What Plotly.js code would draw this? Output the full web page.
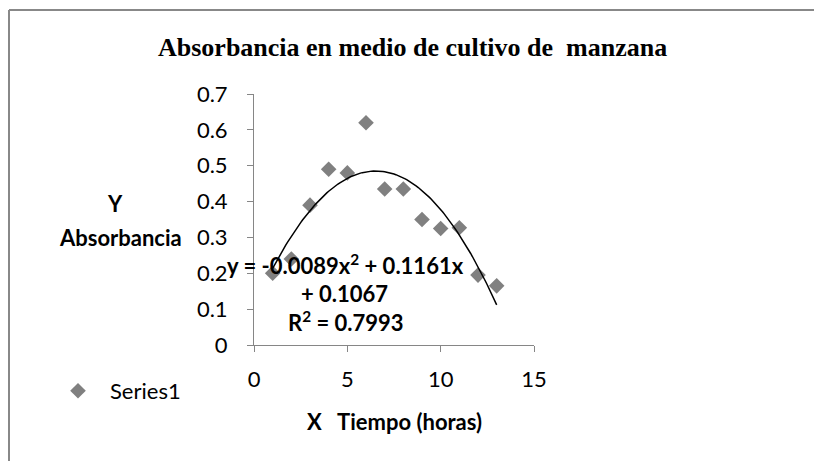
<!DOCTYPE html>
<html>
<head>
<meta charset="utf-8">
<script src="https://cdn.plot.ly/plotly-3.0.1.min.js"></script>
<style>
html,body{margin:0;padding:0;background:#fff;}
#chart{width:814px;height:461px;}
</style>
</head>
<body>
<div id="chart"></div>
<script>
// Data
const tiempoHoras = [1, 2, 3, 4, 5, 6, 7, 8, 9, 10, 11, 12, 13];
const absorbancia = [0.20, 0.24, 0.39, 0.49, 0.48, 0.62, 0.435, 0.435, 0.35, 0.325, 0.327, 0.195, 0.165];
// Polynomial trendline coefficients shown on the chart (a2, a1, a0)
const trendCoef = [-0.0089, 0.1161, 0.1067];
const trendRange = [1, 13];
const xTicks = [0, 5, 10, 15];
const yTicks = [0, 0.1, 0.2, 0.3, 0.4, 0.5, 0.6, 0.7];
const yTickText = ['0', '0.1', '0.2', '0.3', '0.4', '0.5', '0.6', '0.7'];

const trendX = [];
const trendY = [];
for (let i = 0; i <= 120; i++) {
  const x = trendRange[0] + (trendRange[1] - trendRange[0]) * i / 120;
  trendX.push(x);
  trendY.push(trendCoef[0] * x * x + trendCoef[1] * x + trendCoef[2]);
}

const W = 814, H = 461;
const L = 254, R = 280, T = 94, B = 116;
const pw = W - L - R, ph = H - T - B;
const px = v => (v - L) / pw;
const py = v => (H - B - v) / ph;

const bodyFont = 'Lato, Calibri, Carlito, sans-serif';
const FS = 22;

const traces = [
  {
    x: tiempoHoras, y: absorbancia, type: 'scatter', mode: 'markers', name: 'Series1',
    marker: {symbol: 'diamond', size: 12, color: '#808080'},
    showlegend: true
  },
  {
    x: trendX, y: trendY, type: 'scatter', mode: 'lines', name: 'Poly. (Series1)',
    line: {color: '#000000', width: 1.5}, showlegend: false, hoverinfo: 'skip'
  }
];

const layout = {
  width: W, height: H,
  margin: {l: L, r: R, t: T, b: B},
  paper_bgcolor: '#ffffff', plot_bgcolor: '#ffffff',
  font: {family: bodyFont, size: FS, color: '#000'},
  showlegend: true,
  legend: {x: px(46), y: py(391), xanchor: 'left', yanchor: 'middle', itemwidth: 54, font: {family: bodyFont, size: FS, color: '#000'}, bgcolor: 'rgba(0,0,0,0)'},
  xaxis: {
    range: [0, 15], tickvals: xTicks, ticktext: xTicks.map(String),
    showgrid: false, zeroline: false, showline: true, linecolor: '#868686', linewidth: 1,
    ticks: 'outside', ticklen: 6, tickcolor: '#868686', ticklabelstandoff: 9,
    tickfont: {family: bodyFont, size: FS, color: '#000'}
  },
  yaxis: {
    range: [0, 0.7], tickvals: yTicks, ticktext: yTickText,
    showgrid: false, zeroline: false, showline: true, linecolor: '#868686', linewidth: 1,
    ticks: 'outside', ticklen: 6, tickcolor: '#868686', ticklabelstandoff: 15,
    tickfont: {family: bodyFont, size: FS, color: '#000'}
  },
  shapes: [
    {type: 'line', xref: 'paper', yref: 'paper', x0: px(9), x1: px(830), y0: py(10), y1: py(10), line: {color: '#888888', width: 2}},
    {type: 'line', xref: 'paper', yref: 'paper', x0: px(9), x1: px(9), y0: py(10), y1: py(480), line: {color: '#888888', width: 2}}
  ],
  annotations: [
    {text: '<b>Absorbancia en medio de cultivo de  manzana</b>', xref: 'paper', yref: 'paper', x: px(412), y: py(48), xanchor: 'center', yanchor: 'middle', showarrow: false, font: {family: '"Liberation Serif", "Times New Roman", serif', size: 26, color: '#000'}},
    {text: '<b>Y</b>', xref: 'paper', yref: 'paper', x: px(115), y: py(203), xanchor: 'center', yanchor: 'middle', showarrow: false, font: {family: bodyFont, size: FS}},
    {text: '<b>Absorbancia</b>', xref: 'paper', yref: 'paper', x: px(120), y: py(238), xanchor: 'center', yanchor: 'middle', showarrow: false, font: {family: bodyFont, size: FS}},
    {text: '<b>X   Tiempo (horas)</b>', xref: 'paper', yref: 'paper', x: px(394), y: py(421), xanchor: 'center', yanchor: 'middle', showarrow: false, font: {family: bodyFont, size: FS}},
    {text: '<b>y = -0.0089x<sup>2</sup> + 0.1161x</b>', xref: 'paper', yref: 'paper', x: px(345), y: py(264), xanchor: 'center', yanchor: 'middle', showarrow: false, font: {family: bodyFont, size: FS}},
    {text: '<b>+ 0.1067</b>', xref: 'paper', yref: 'paper', x: px(344), y: py(293), xanchor: 'center', yanchor: 'middle', showarrow: false, font: {family: bodyFont, size: FS}},
    {text: '<b>R<sup>2</sup> = 0.7993</b>', xref: 'paper', yref: 'paper', x: px(346), y: py(321), xanchor: 'center', yanchor: 'middle', showarrow: false, font: {family: bodyFont, size: FS}}
  ]
};

Plotly.newPlot('chart', traces, layout, {displayModeBar: false, staticPlot: true});
</script>
</body>
</html>
